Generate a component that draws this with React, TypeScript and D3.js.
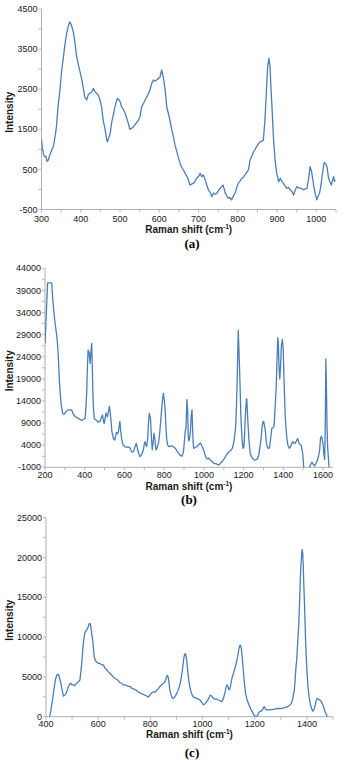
import { useEffect, useRef } from 'react';
import * as d3 from 'd3';

// Raman spectra: [shift (cm-1), intensity]
const spectrumA: [number, number][] = [
  [300, 1250], [302, 1050], [305, 880], [308, 820], [311, 830], [314, 700], [317, 730], [321, 850], [325, 960], [330, 1070],
  [334, 1280], [338, 1560], [342, 2060], [347, 2480], [351, 2930], [355, 3230], [359, 3560], [364, 3890], [368, 4060], [372, 4180],
  [376, 4100], [381, 3930], [385, 3680], [389, 3350], [393, 3150], [398, 2940], [402, 2770], [406, 2560], [410, 2310], [415, 2230],
  [419, 2360], [423, 2400], [428, 2430], [432, 2520], [436, 2440], [440, 2400], [445, 2350], [449, 2230], [453, 2060], [457, 1730],
  [462, 1500], [466, 1230], [468, 1190], [471, 1280], [475, 1400], [479, 1690], [483, 1860], [487, 2060], [493, 2270], [497, 2240],
  [500, 2190], [504, 2060], [508, 2000], [513, 1900], [517, 1780], [521, 1650], [525, 1500], [530, 1530], [534, 1560], [538, 1610],
  [543, 1680], [547, 1730], [551, 1820], [555, 2060], [560, 2150], [564, 2230], [568, 2310], [572, 2380], [576, 2480], [581, 2650],
  [585, 2730], [589, 2700], [593, 2730], [598, 2770], [602, 2810], [606, 2980], [610, 2810], [615, 2480], [619, 2060], [623, 1900],
  [627, 1730], [632, 1480], [636, 1320], [640, 1110], [645, 930], [649, 780], [653, 650], [657, 560], [661, 490], [666, 400],
  [670, 330], [674, 240], [678, 110], [683, 140], [687, 150], [691, 210], [695, 280], [700, 330], [704, 400], [708, 320],
  [712, 360], [717, 240], [721, 110], [725, -10], [730, -80], [734, -180], [738, -90], [743, -120], [747, -90], [751, -20],
  [755, 30], [759, 70], [762, 110], [765, 20], [768, -90], [772, -160], [776, -220], [780, -200], [784, -260], [788, -180],
  [793, -90], [797, 40], [801, 150], [805, 200], [810, 280], [814, 300], [818, 360], [822, 420], [827, 490], [831, 730],
  [835, 820], [840, 940], [844, 1000], [848, 1070], [852, 1130], [857, 1190], [861, 1200], [865, 1230], [869, 1730], [872, 2300],
  [874, 2700], [876, 3060], [879, 3270], [882, 3060], [884, 2600], [887, 2060], [891, 1230], [895, 730], [899, 400], [904, 190],
  [908, 280], [912, 200], [916, 150], [920, 90], [925, 30], [929, 50], [933, -10], [937, -40], [942, -140], [946, -20],
  [950, 70], [955, 40], [959, 30], [963, 20], [967, -10], [971, 10], [976, 30], [980, 250], [984, 570], [988, 440],
  [993, 110], [997, -100], [1001, -260], [1004, -180], [1008, -90], [1011, 60], [1014, 280], [1017, 500], [1020, 670], [1024, 640],
  [1027, 570], [1031, 280], [1035, 180], [1038, 110], [1041, 220], [1044, 320], [1046, 200], [1048, 240],
];

const spectrumB: [number, number][] = [
  [200, 27000], [204, 31000], [208, 35300], [213, 40700], [234, 40700], [239, 37000], [245, 34000], [251, 31500], [257, 29500], [262, 27500],
  [267, 24000], [272, 19000], [277, 15500], [282, 13000], [289, 11200], [296, 11000], [303, 11400], [310, 11800], [318, 12000], [326, 12000],
  [335, 11900], [343, 11000], [352, 10400], [360, 10300], [369, 10000], [377, 9800], [385, 9600], [394, 9800], [402, 10100], [406, 12500],
  [410, 16000], [413, 21000], [417, 25500], [422, 25000], [427, 22500], [431, 25000], [435, 27000], [438, 22000], [441, 16000], [444, 12500],
  [448, 10000], [454, 9800], [460, 9600], [468, 9200], [477, 9400], [483, 10200], [490, 10800], [494, 9500], [498, 8900], [503, 10200],
  [507, 11300], [511, 10800], [514, 10400], [519, 11500], [524, 12800], [528, 11500], [532, 9700], [537, 7000], [544, 5600], [548, 5200],
  [552, 5200], [556, 6200], [560, 6900], [565, 6600], [569, 6900], [573, 8200], [577, 9400], [581, 7200], [586, 5500], [590, 4500],
  [594, 4000], [602, 3700], [611, 3500], [620, 3600], [628, 3400], [633, 2800], [637, 2500], [645, 2500], [652, 3500], [659, 4400],
  [663, 3800], [667, 2900], [673, 2000], [679, 1400], [687, 1800], [695, 2900], [700, 4300], [704, 4800], [708, 4000], [712, 3700],
  [717, 5500], [721, 9000], [725, 11200], [729, 10500], [732, 9500], [736, 5500], [740, 3000], [744, 4500], [749, 6700], [754, 5000],
  [759, 2900], [765, 3500], [771, 4400], [777, 6500], [783, 9700], [788, 12500], [792, 14500], [796, 15700], [800, 14500], [805, 12000],
  [809, 8000], [813, 5200], [818, 4000], [822, 3700], [830, 3700], [839, 3900], [847, 3600], [856, 3300], [864, 2700], [873, 2200],
  [881, 1700], [889, 1500], [894, 2000], [898, 2900], [902, 5000], [906, 7100], [910, 8000], [912, 11000], [915, 14300], [918, 12000],
  [921, 6500], [923, 5200], [926, 5000], [929, 5900], [932, 7000], [936, 10500], [940, 12000], [943, 8000], [946, 4500], [948, 3300],
  [953, 3400], [958, 3600], [965, 3700], [970, 4000], [976, 4200], [982, 4500], [987, 4100], [993, 3500], [999, 2900], [1006, 1800],
  [1013, 1000], [1019, 900], [1025, 1100], [1033, 600], [1042, 300], [1050, -100], [1058, -150], [1066, -300], [1075, -500], [1083, -100],
  [1092, 300], [1100, 800], [1109, 1400], [1117, 2000], [1126, 2500], [1134, 2800], [1143, 3300], [1150, 4500], [1156, 6500], [1160, 8200],
  [1164, 13000], [1168, 19500], [1171, 26000], [1173, 30000], [1176, 26000], [1179, 22000], [1182, 17500], [1186, 11000], [1189, 7800], [1193, 5000],
  [1197, 3300], [1201, 3500], [1205, 6500], [1208, 10000], [1211, 12500], [1214, 14400], [1216, 14500], [1219, 11500], [1223, 8000], [1227, 5000],
  [1233, 2200], [1240, 1400], [1247, 900], [1254, 650], [1262, 700], [1271, 1000], [1277, 2000], [1282, 3500], [1288, 5500], [1292, 7800],
  [1297, 9300], [1301, 9400], [1306, 8200], [1310, 7000], [1314, 4800], [1318, 3700], [1324, 3300], [1330, 3400], [1336, 5500], [1342, 7800],
  [1348, 8000], [1353, 8200], [1358, 12000], [1364, 17000], [1368, 23000], [1372, 28300], [1375, 27000], [1378, 22000], [1382, 19000], [1386, 22000],
  [1390, 26500], [1395, 27900], [1399, 26000], [1404, 18000], [1409, 11000], [1413, 8000], [1418, 5500], [1423, 4000], [1430, 3300], [1437, 3700],
  [1443, 4500], [1447, 4800], [1453, 4500], [1459, 4400], [1466, 5000], [1472, 5500], [1477, 4700], [1481, 4300], [1486, 4100], [1490, 4000],
  [1494, 3000], [1498, 2000], [1503, -1200], [1510, -3000], [1525, -3000], [1532, -1000], [1538, -300], [1544, 200], [1550, -300], [1557, -700],
  [1563, -200], [1571, 500], [1577, 1500], [1583, 3000], [1587, 5500], [1591, 6000], [1595, 5500], [1600, 4200], [1604, 2000], [1608, 800],
  [1611, 8000], [1614, 23500], [1617, 17000], [1620, 8000], [1623, 3500], [1627, 1000], [1631, -1500], [1640, -3000], [1650, -3000],
];

const spectrumC: [number, number][] = [
  [405, -1500], [414, 0], [418, 700], [423, 1700], [428, 2800], [432, 3800], [436, 4600], [439, 5000], [443, 5300], [448, 5300],
  [452, 4900], [457, 4200], [462, 3300], [467, 2600], [472, 2700], [477, 2900], [481, 3300], [486, 3800], [491, 4100], [495, 4200],
  [500, 4000], [505, 4000], [510, 3900], [514, 4100], [518, 4200], [524, 4400], [530, 4600], [533, 5500], [537, 6700], [540, 8000],
  [543, 9200], [546, 10000], [549, 10500], [553, 10800], [556, 10900], [559, 11100], [562, 11300], [566, 11700], [569, 11700], [571, 11500],
  [575, 10500], [579, 9600], [582, 8500], [585, 7500], [590, 7000], [594, 6900], [600, 6700], [607, 6700], [613, 6500], [620, 6500],
  [626, 6100], [633, 5900], [640, 5600], [646, 5400], [652, 5200], [658, 5000], [665, 4800], [671, 4700], [677, 4500], [683, 4300],
  [690, 4200], [696, 4000], [703, 4000], [709, 3900], [716, 3800], [722, 3800], [728, 3600], [735, 3500], [741, 3400], [747, 3300],
  [754, 3100], [760, 3000], [766, 2900], [773, 2800], [779, 2700], [786, 2600], [792, 2450], [798, 2700], [805, 3000], [811, 3100],
  [818, 3100], [824, 3300], [830, 3500], [837, 3800], [843, 4000], [850, 4200], [856, 4400], [861, 4900], [865, 5200], [868, 5000],
  [871, 4400], [874, 3500], [878, 2900], [883, 2400], [888, 2300], [894, 2500], [901, 2900], [907, 3400], [913, 4000], [918, 4800],
  [923, 5900], [926, 6800], [929, 7500], [932, 7900], [935, 7900], [938, 7400], [941, 6500], [944, 5500], [947, 4600], [952, 3600],
  [958, 2900], [964, 2500], [970, 2400], [977, 2300], [984, 2200], [990, 2100], [997, 1800], [1003, 1500], [1009, 1600], [1016, 1900],
  [1022, 2200], [1029, 2700], [1035, 2600], [1042, 2300], [1048, 2200], [1055, 2200], [1061, 2100], [1068, 2000], [1074, 1900], [1080, 2300],
  [1084, 2800], [1087, 3200], [1091, 3800], [1094, 4000], [1098, 3700], [1101, 3400], [1104, 3400], [1109, 4200], [1113, 4900], [1119, 5500],
  [1126, 6300], [1131, 7000], [1135, 7600], [1139, 8500], [1143, 9000], [1146, 8900], [1149, 8500], [1152, 7500], [1156, 5900], [1160, 4300],
  [1165, 2900], [1170, 2200], [1178, 1500], [1184, 1000], [1191, 600], [1197, 200], [1204, 0], [1210, 100], [1217, 600], [1224, 700],
  [1230, 850], [1234, 1200], [1237, 1250], [1241, 1000], [1245, 850], [1250, 850], [1256, 850], [1262, 900], [1269, 900], [1275, 950],
  [1282, 1000], [1288, 1050], [1294, 1000], [1301, 1050], [1307, 1050], [1314, 1150], [1320, 1200], [1326, 1250], [1333, 1400], [1337, 1550],
  [1341, 1700], [1346, 2300], [1349, 2900], [1352, 3400], [1355, 4700], [1358, 6200], [1361, 7200], [1365, 9500], [1369, 11700], [1372, 14500],
  [1374, 16700], [1377, 19000], [1380, 20500], [1382, 21000], [1384, 20500], [1386, 19000], [1388, 16700], [1391, 14000], [1393, 11700], [1395, 9500],
  [1397, 8000], [1400, 5800], [1404, 3800], [1408, 2600], [1413, 1600], [1418, 1000], [1423, 700], [1428, 1000], [1432, 1500], [1436, 2100],
  [1440, 2300], [1445, 2200], [1449, 2100], [1455, 1900], [1461, 1500], [1466, 1000], [1470, 600], [1474, 300], [1478, 0], [1482, -800],
];

// labelled ticks
const xTicksA = [300, 400, 500, 600, 700, 800, 900, 1000];
const yTicksA = [-500, 500, 1500, 2500, 3500, 4500];
const xTicksB = [200, 400, 600, 800, 1000, 1200, 1400, 1600];
const yTicksB = [-1000, 4000, 9000, 14000, 19000, 24000, 29000, 34000, 39000, 44000];
const xTicksC = [400, 600, 800, 1000, 1200, 1400];
const yTicksC = [0, 5000, 10000, 15000, 20000, 25000];

const panelLabels = ['(a)', '(b)', '(c)'];

const LINE = '#4a7ebb';
const AXIS = '#a6a6a6';
const INK = '#1a1a1a';
const SANS = '"Liberation Sans", Arial, sans-serif';

const panels = [
  {
    data: spectrumA, xTicks: xTicksA, yTicks: yTicksA, xDomain: [300, 1050], yDomain: [-500, 4500],
    xMinor: 50, yMinor: 500, left: 41.5, right: 336, top: 9, bottom: 209.5,
    tickDy: 9.5, titleDy: 19.5, letterX: 192, letterY: 243, label: panelLabels[0],
  },
  {
    data: spectrumB, xTicks: xTicksB, yTicks: yTicksB, xDomain: [200, 1650], yDomain: [-1000, 44000],
    xMinor: 100, yMinor: 2500, left: 45, right: 333, top: 268.3, bottom: 467.3,
    tickDy: 7.5, titleDy: 19, letterX: 189, letterY: 499, label: panelLabels[1],
  },
  {
    data: spectrumC, xTicks: xTicksC, yTicks: yTicksC, xDomain: [400, 1500], yDomain: [0, 25000],
    xMinor: 100, yMinor: 2500, left: 46, right: 333, top: 517.7, bottom: 716.7,
    tickDy: 7.5, titleDy: 18, letterX: 192, letterY: 752, label: panelLabels[2],
  },
];

export default function App() {
  const svgRef = useRef<SVGSVGElement>(null);

  useEffect(() => {
    document.body.style.margin = '0';
    const svg = d3.select(svgRef.current);
    svg.selectAll('*').remove();

    panels.forEach((p, i) => {
      const x = d3.scaleLinear().domain(p.xDomain).range([p.left, p.right]);
      const y = d3.scaleLinear().domain(p.yDomain).range([p.bottom, p.top]);
      const g = svg.append('g');

      // clip so the trace stops at the axis
      const clipId = `clip-${i}`;
      svg.append('clipPath').attr('id', clipId)
        .append('rect')
        .attr('x', p.left).attr('y', p.top - 20)
        .attr('width', p.right - p.left).attr('height', p.bottom - p.top + 20);

      // minor + major tick marks
      const yMarks = d3.range(p.yDomain[0], p.yDomain[1] + 1, p.yMinor);
      const xMarks = d3.range(p.xDomain[0], p.xDomain[1] + 1, p.xMinor);
      g.selectAll('line.yt').data(yMarks).enter().append('line')
        .attr('x1', p.left - 3).attr('x2', p.left)
        .attr('y1', d => y(d)).attr('y2', d => y(d))
        .attr('stroke', AXIS).attr('stroke-width', 0.8);
      g.selectAll('line.xt').data(xMarks).enter().append('line')
        .attr('y1', p.bottom).attr('y2', p.bottom + 3)
        .attr('x1', d => x(d)).attr('x2', d => x(d))
        .attr('stroke', AXIS).attr('stroke-width', 0.8);

      // axis lines
      g.append('line').attr('x1', p.left).attr('x2', p.left).attr('y1', p.top).attr('y2', p.bottom)
        .attr('stroke', AXIS).attr('stroke-width', 0.9);
      g.append('line').attr('x1', p.left).attr('x2', p.right).attr('y1', p.bottom).attr('y2', p.bottom)
        .attr('stroke', AXIS).attr('stroke-width', 0.9);

      // tick labels
      g.selectAll('text.yl').data(p.yTicks).enter().append('text')
        .attr('x', p.left - 4).attr('y', d => y(d)).attr('dy', '0.35em')
        .attr('text-anchor', 'end').attr('font-family', SANS).attr('font-size', 9).attr('fill', INK)
        .text(d => d);
      g.selectAll('text.xl').data(p.xTicks).enter().append('text')
        .attr('x', d => x(d)).attr('y', p.bottom + p.tickDy).attr('dy', '0.35em')
        .attr('text-anchor', 'middle').attr('font-family', SANS).attr('font-size', 9).attr('fill', INK)
        .text(d => d);

      // spectrum
      const line = d3.line<[number, number]>().x(d => x(d[0])).y(d => y(d[1]));
      g.append('path').datum(p.data)
        .attr('d', line)
        .attr('clip-path', `url(#${clipId})`)
        .attr('fill', 'none').attr('stroke', LINE).attr('stroke-width', 1.3)
        .attr('stroke-linejoin', 'round');

      // axis titles
      const title = g.append('text')
        .attr('x', (p.left + p.right) / 2).attr('y', p.bottom + p.titleDy).attr('dy', '0.35em')
        .attr('text-anchor', 'middle').attr('font-family', SANS).attr('font-size', 10)
        .attr('font-weight', 'bold').attr('fill', INK);
      title.append('tspan').text('Raman shift (cm');
      title.append('tspan').attr('font-size', 6.5).attr('dy', -4).text('-1');
      title.append('tspan').attr('dy', 4).text(')');

      g.append('text')
        .attr('transform', `translate(9,${(p.top + p.bottom) / 2 + 3}) rotate(-90)`)
        .attr('dy', '0.35em').attr('text-anchor', 'middle')
        .attr('font-family', SANS).attr('font-size', 10).attr('font-weight', 'bold').attr('fill', INK)
        .text('Intensity');

      g.append('text')
        .attr('x', p.letterX).attr('y', p.letterY).attr('dy', '0.35em')
        .attr('text-anchor', 'middle').attr('font-family', '"Liberation Serif", "Times New Roman", serif')
        .attr('font-size', 13).attr('font-weight', 'bold').attr('fill', '#000')
        .text(p.label);
    });
  }, []);

  return <svg ref={svgRef} width={354} height={760} style={{ display: 'block', background: '#fff' }} />;
}
